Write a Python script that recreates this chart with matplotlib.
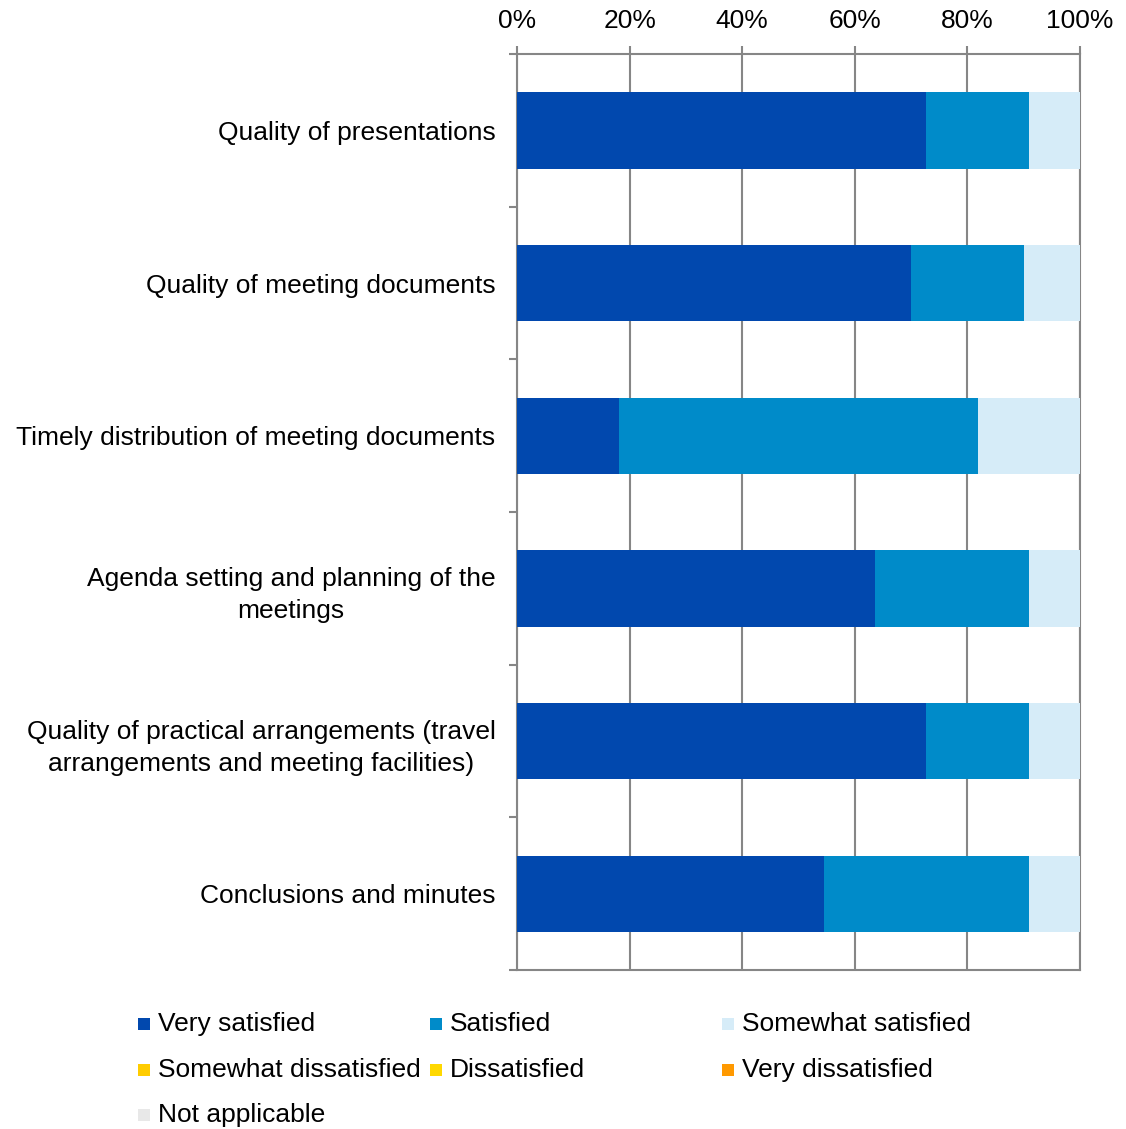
import numpy as np
import matplotlib
matplotlib.use('Agg')
import matplotlib.pyplot as plt
from matplotlib.patches import Rectangle

plt.rcParams['font.family'] = ['Liberation Sans', 'DejaVu Sans']

categories = ['Quality of presentations',
              'Quality of meeting documents',
              'Timely distribution of meeting documents',
              'Agenda setting and planning of the\nmeetings',
              'Quality of practical arrangements (travel\narrangements and meeting facilities)',
              'Conclusions and minutes']

series = ['Very satisfied', 'Satisfied', 'Somewhat satisfied',
          'Somewhat dissatisfied', 'Dissatisfied', 'Very dissatisfied',
          'Not applicable']
colors = ['#0148AE', '#008BC9', '#D6ECF8', '#FFCC00', '#FFD800', '#FF9900', '#E8E8E8']

very_satisfied = [72.7, 70.0, 18.2, 63.6, 72.7, 54.5]
satisfied = [18.2, 20.0, 63.6, 27.3, 18.2, 36.4]
somewhat_satisfied = [9.1, 10.0, 18.2, 9.1, 9.1, 9.1]
somewhat_dissatisfied = [0, 0, 0, 0, 0, 0]
dissatisfied = [0, 0, 0, 0, 0, 0]
very_dissatisfied = [0, 0, 0, 0, 0, 0]
not_applicable = [0, 0, 0, 0, 0, 0]

values = [very_satisfied, satisfied, somewhat_satisfied, somewhat_dissatisfied,
          dissatisfied, very_dissatisfied, not_applicable]

W, H = 1126, 1129
fig = plt.figure(figsize=(W / 100, H / 100), dpi=100)
ax = fig.add_axes([517 / W, 1 - 970 / H, (1080 - 517) / W, (970 - 54) / H])

y = np.arange(len(categories))
left = np.zeros(len(categories))
for name, vals, c in zip(series, values, colors):
    vals = np.array(vals, dtype=float)
    ax.barh(y, vals, left=left, height=0.5, color=c, label=name, zorder=3)
    left += vals

ax.set_xlim(0, 100)
ax.set_ylim(len(categories) - 0.5, -0.5)

gray = '#868686'
ax.xaxis.tick_top()
ax.set_xticks(np.arange(0, 101, 20))
ax.set_xticklabels([f'{v}%' for v in range(0, 101, 20)], fontsize=19)
ax.tick_params(axis='x', length=6, width=1.5, color=gray, pad=9)
ax.grid(axis='x', color=gray, linewidth=1.5, zorder=0)

# category ticks at boundaries, labels at centres
ax.set_yticks(np.arange(-0.5, len(categories), 1.0))
ax.set_yticklabels([])
ax.tick_params(axis='y', which='major', length=6, width=1.5, color=gray)
ax.set_yticks(y, minor=True)
ax.set_yticklabels(categories, minor=True, fontsize=19, multialignment='center',
                   linespacing=1.45)
ax.tick_params(axis='y', which='minor', length=0, pad=15.5)

for s in ax.spines.values():
    s.set_color(gray)
    s.set_linewidth(1.5)

# legend, three columns
col_x = [138, 430, 722]
row_y = [1024, 1070, 1115]
for i, (name, c) in enumerate(zip(series, colors)):
    cx = col_x[i % 3]
    cy = row_y[i // 3]
    fig.patches.append(Rectangle((cx / W, 1 - (cy + 6) / H), 12 / W, 12 / H,
                                 transform=fig.transFigure, facecolor=c,
                                 edgecolor='none', figure=fig))
    fig.text((cx + 20) / W, 1 - cy / H, name, fontsize=19, va='center', ha='left')

fig.savefig('out.png', dpi=100)
